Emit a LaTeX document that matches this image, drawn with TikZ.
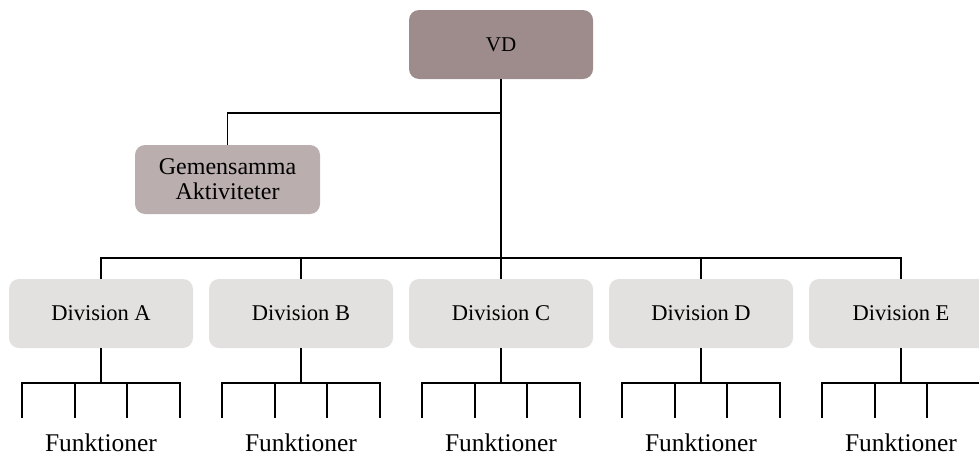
\documentclass[tikz,border=0pt]{standalone}
\usepackage{fontspec}
\setmainfont{Liberation Serif}
\definecolor{topfill}{HTML}{9E8C8C}
\definecolor{staffill}{HTML}{BAAEAE}
\definecolor{divfill}{HTML}{E3E0E0}
\begin{document}
\begin{tikzpicture}[x=1pt,y=-1pt,
  box/.style={rectangle, rounded corners=10pt, minimum width=184pt, minimum height=69pt,
    inner sep=0pt, align=center, font=\fontsize{22.5}{25}\selectfont},
  topbox/.style={box, fill=topfill, font=\fontsize{21}{25}\selectfont},
  staffbox/.style={box, fill=staffill, font=\fontsize{24}{25}\selectfont},
  divbox/.style={box, fill=divfill},
  label/.style={inner sep=0pt, anchor=base, font=\fontsize{25.5}{28}\selectfont},
  conn/.style={draw=black, line width=1.8pt}]
\useasboundingbox (0,0) rectangle (979,455);
\clip (0,0) rectangle (979,455);

% top level and staff unit
\node[topbox] (vd) at (501,44.5) {VD};
\node[staffbox, minimum width=185pt] (gem) at (227.5,179.5) {Gemensamma\\Aktiviteter};

% divisions
\foreach \n/\x in {A/101,B/301,C/501,D/701,E/901}{
  \node[divbox] (div\n) at (\x,313.5) {Division \n};
  \node[label] (fun\n) at (\x,451) {Funktioner};
}

% junctions
\coordinate (j1) at (501,113);
\coordinate (bus) at (501,258);

\draw[conn] (vd.south) -- (bus);
\draw[conn] (gem.north) |- (j1);
\draw[conn] (divA.north) |- (bus) -| (divE.north);
\foreach \n in {B,C,D}{
  \draw[conn] (div\n.north) -- (div\n.north |- bus);
}

% function branches below each division
\foreach \n/\x in {A/101,B/301,C/501,D/701,E/901}{
  \coordinate (sb\n) at (\x,383);
  \draw[conn] (div\n.south) -- (sb\n);
  \draw[conn] (\x-79,418) |- (\x+79,383) -- (\x+79,418);
  \draw[conn] (\x-26.3,383) -- (\x-26.3,418);
  \draw[conn] (\x+26.3,383) -- (\x+26.3,418);
}
\end{tikzpicture}
\end{document}
